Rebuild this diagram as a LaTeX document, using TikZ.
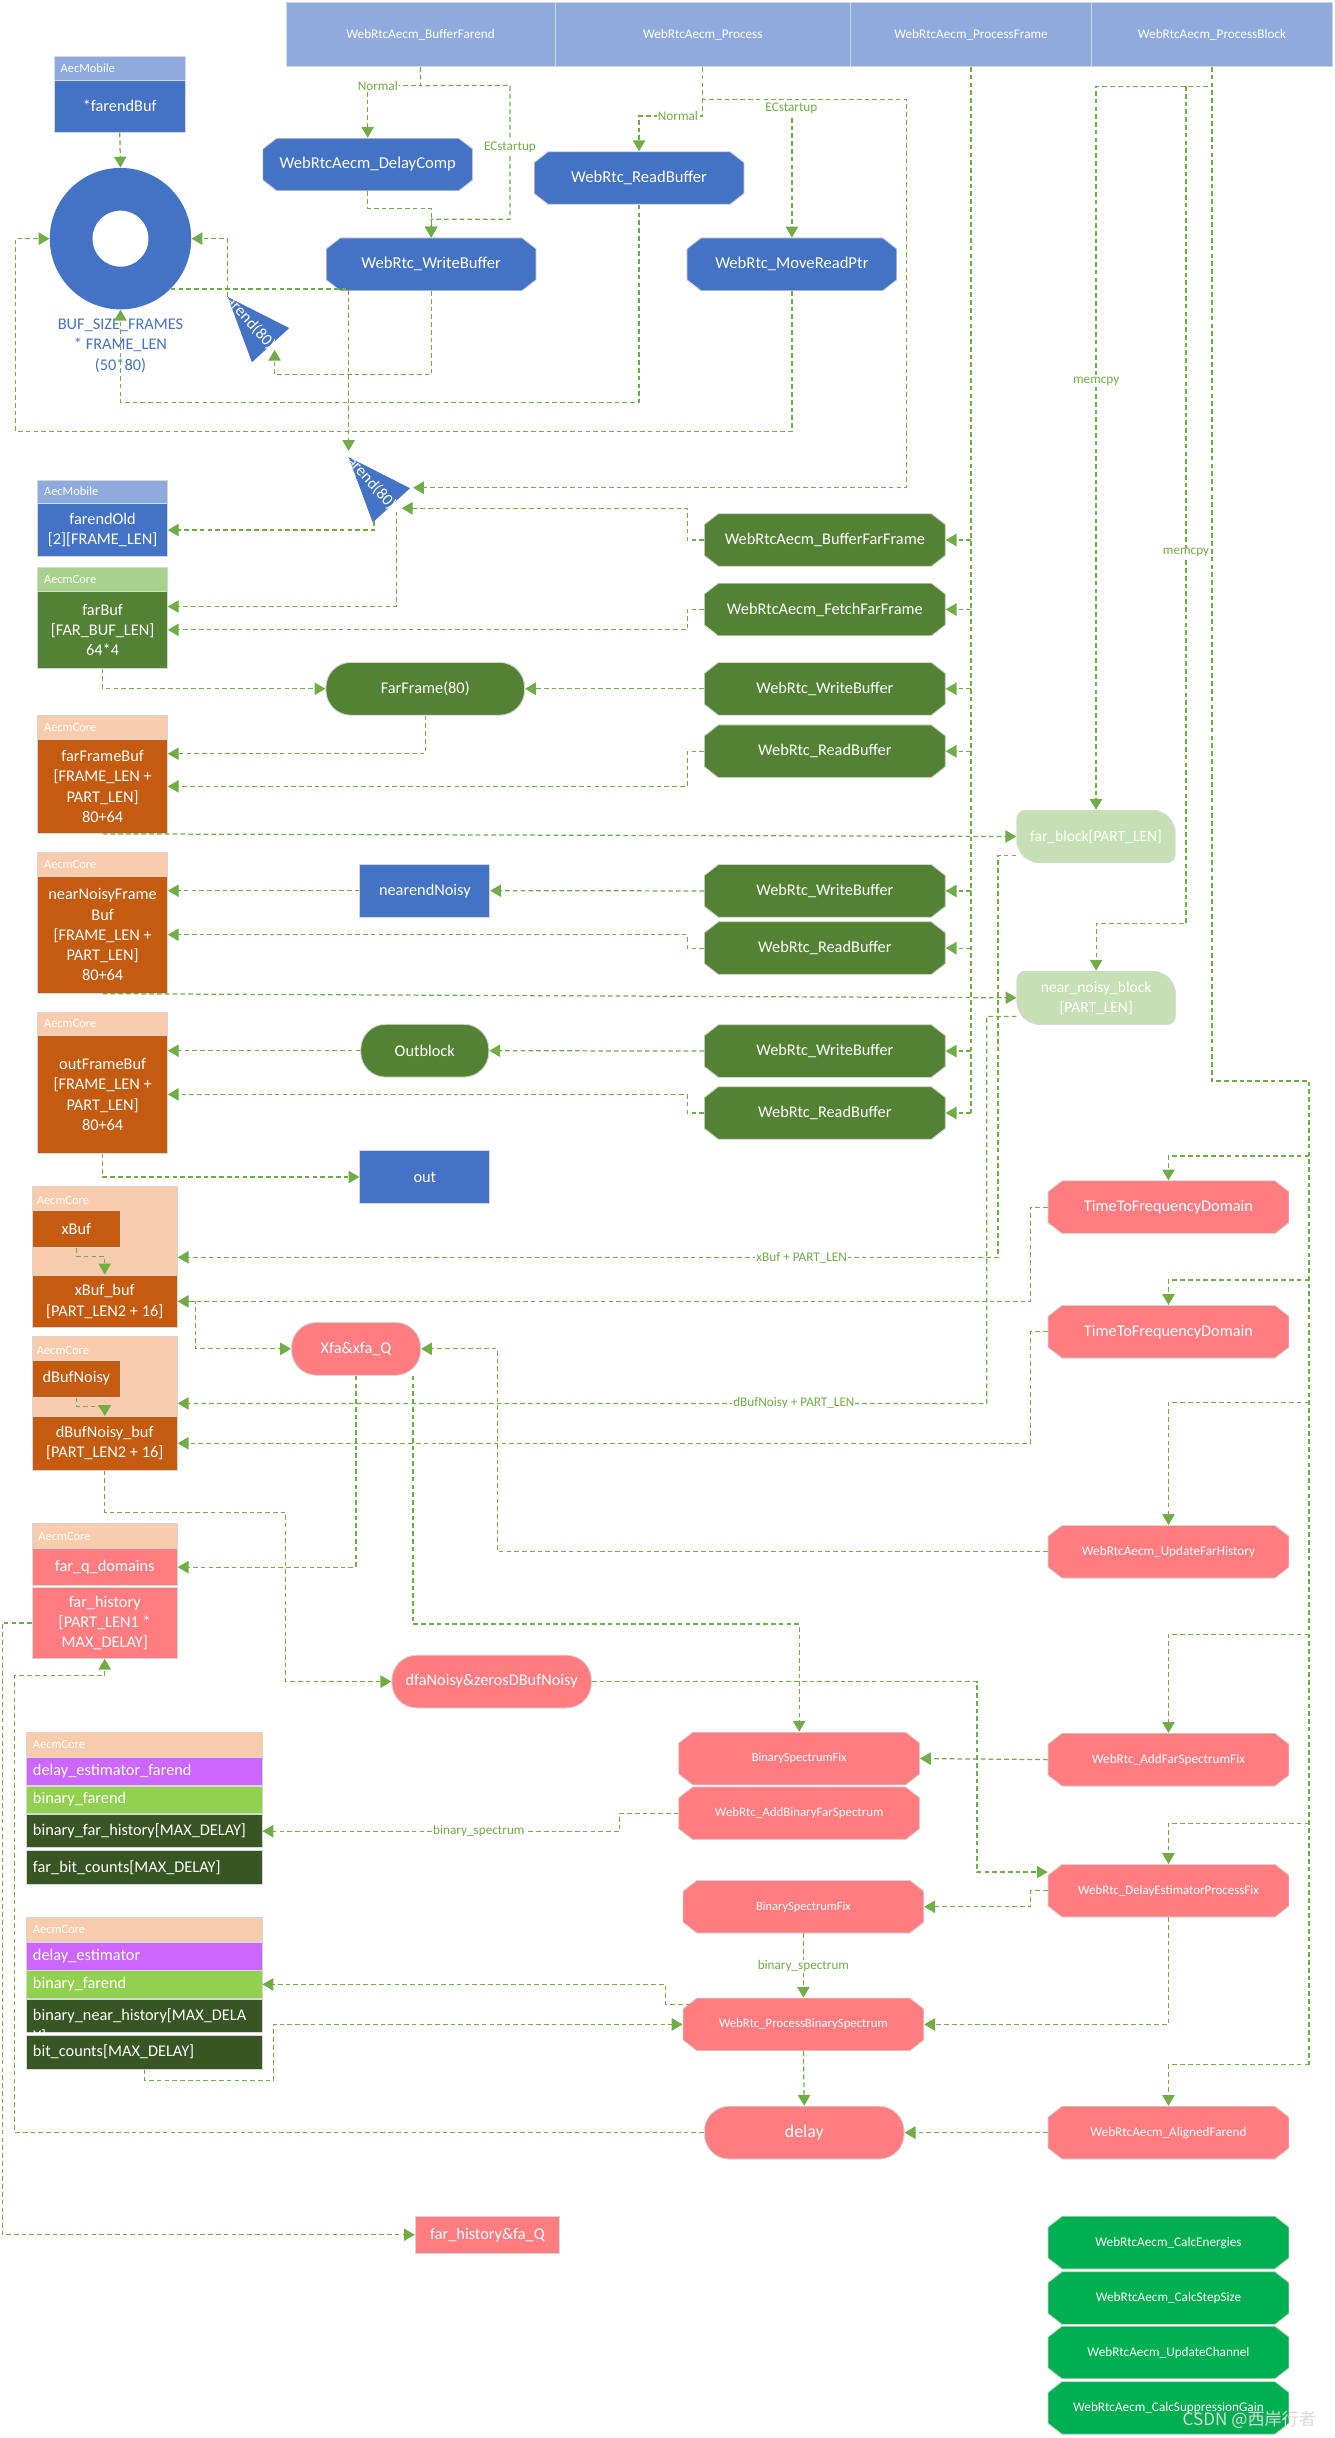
\documentclass[tikz,border=0pt]{standalone}
\usepackage{fontspec}
\setmainfont{Carlito}
\newfontfamily\cjkfont{Noto Sans CJK SC}
\usetikzlibrary{arrows.meta,positioning}

\definecolor{barblue}{HTML}{8FAADC}
\definecolor{dkblue}{HTML}{4472C4}
\definecolor{dkgreen}{HTML}{548235}
\definecolor{hdrgreen}{HTML}{A9D18E}
\definecolor{peach}{HTML}{F8CBAD}
\definecolor{rust}{HTML}{C55A11}
\definecolor{salmon}{HTML}{FF7C80}
\definecolor{palegreen}{HTML}{C5E0B4}
\definecolor{purp}{HTML}{CC66FF}
\definecolor{limeg}{HTML}{92D050}
\definecolor{forest}{HTML}{375623}
\definecolor{brgreen}{HTML}{00B050}
\definecolor{lgreen}{HTML}{70AD47}
\definecolor{edge}{HTML}{D6D6D6}

\newcommand{\fsz}[2]{\fontsize{#1}{#2}\selectfont}

\begin{document}
\begin{tikzpicture}[x=1pt, y=-1pt,
    conn/.style={draw=lgreen, line width=0.8pt, dash pattern=on 3pt off 2pt, -{Triangle[length=7pt,width=8pt]}},
    trunk/.style={draw=lgreen, line width=1.1pt, dash pattern=on 3pt off 2pt},
    lbl/.style={fill=white, inner sep=0.6pt, text=lgreen, font=\fsz{8.5}{10}},
    bar/.style={draw=edge, fill=barblue, text=white, minimum height=41.2pt, inner sep=0pt, font=\fsz{8.5}{10}},
    box/.style={draw=edge, line width=0.6pt, fill=#1, text=white, inner sep=0pt, align=center, font=\fsz{10.5}{13}},
    hdr/.style={draw=edge, line width=0.6pt, fill=#1, text=white, inner sep=0pt, inner xsep=4pt, align=left, font=\fsz{8}{9}},
    row/.style={draw=edge, line width=0.6pt, fill=#1, text=white, inner sep=0pt, inner xsep=4pt, align=left, text width=143.3pt, font=\fsz{10.5}{13}},
    pill/.style={box=#1, rounded corners=16pt},
    oct/.style={rectangle, inner sep=0pt, minimum width=155pt, minimum height=34pt, text=white, align=center, font=\fsz{10.5}{13},
        path picture={\filldraw[fill=#1, draw=edge, line width=0.6pt]
            ([xshift=9pt]path picture bounding box.north west) -- ([xshift=-9pt]path picture bounding box.north east)
            -- ([yshift=-7pt]path picture bounding box.north east) -- ([yshift=7pt]path picture bounding box.south east)
            -- ([xshift=-9pt]path picture bounding box.south east) -- ([xshift=9pt]path picture bounding box.south west)
            -- ([yshift=7pt]path picture bounding box.south west) -- ([yshift=-7pt]path picture bounding box.north west) -- cycle;}},
    snip/.style={rectangle, inner sep=0pt, minimum width=102.2pt, minimum height=34pt, text=white, align=center, font=\fsz{10}{13},
        path picture={\filldraw[fill=#1, draw=edge, line width=0.6pt, rounded corners=6pt]
            (path picture bounding box.north west) -- ([xshift=-9pt]path picture bounding box.north east)
            -- ([yshift=-9pt]path picture bounding box.north east) -- (path picture bounding box.south east)
            -- ([xshift=9pt]path picture bounding box.south west) -- ([yshift=9pt]path picture bounding box.south west) -- cycle;}},
]
\useasboundingbox (0,0) rectangle (858,1568);

% function bar
\node[bar, minimum width=173pt] (barFarend) at (270.5,22.3) {WebRtcAecm\_BufferFarend};
\node[bar, minimum width=190pt] (barProcess) at (452,22.3) {WebRtcAecm\_Process};
\node[bar, minimum width=155pt] (barFrame) at (624.5,22.3) {WebRtcAecm\_ProcessFrame};
\node[bar, minimum width=155pt] (barBlock) at (779.5,22.3) {WebRtcAecm\_ProcessBlock};

% AecMobile ring buffer
\node[hdr=barblue, text width=76pt, minimum height=15.5pt] (farendBufHdr) at (77,43.75) {AecMobile};
\node[box=dkblue, minimum width=84pt, minimum height=33.5pt] (farendBuf) at (77,68.25) {*farendBuf};
\node[circle, fill=dkblue, minimum size=91pt, inner sep=0pt] (ring) at (77.5,153.5) {};
\node[circle, fill=white, minimum size=36pt, inner sep=0pt] (ringHole) at (ring.center) {};
\node[text=dkblue, align=center, font=\fsz{10.5}{13}] (ringLbl) at (77.5,222.4) {BUF\_SIZE\_FRAMES\\{}* FRAME\_LEN\\(50*80)};

\node[oct=dkblue, minimum width=135pt, font=\fsz{10.7}{13}] (delayComp) at (236.5,105.8) {WebRtcAecm\_DelayComp};
\node[oct=dkblue, minimum width=135pt, font=\fsz{10.7}{13}] (writeBufA) at (277.3,170) {WebRtc\_WriteBuffer};
\node[oct=dkblue, minimum width=135pt, font=\fsz{10.7}{13}] (readBufA) at (411,114.5) {WebRtc\_ReadBuffer};
\node[oct=dkblue, minimum width=135pt, font=\fsz{10.7}{13}] (movePtr) at (509.3,170) {WebRtc\_MoveReadPtr};

% farend(80) pieces
\foreach \nm/\dx/\dy in {triA/0/0, triB/77.7/103} {
  \begin{scope}[shift={(\dx,\dy)}]
    \fill[dkblue] (146.5,191) -- (186,211) -- (162,233) -- cycle;
    \clip (146.5,191) -- (186,211) -- (162,233) -- cycle;
    \node[text=white, rotate=-48, inner sep=0pt, font=\fsz{10.5}{12}] (\nm) at (160.3,206.5) {farend(80)};
  \end{scope}
}
\coordinate (t1a) at (146.5,191);
\coordinate (t1b) at (176.6,225);
\coordinate (t2top) at (224.2,290);
\coordinate (t2r) at (265.6,313.7);
\coordinate (t2m) at (258.4,326.9);
\coordinate (t2b) at (240.6,335);
\coordinate (t2v) at (254.9,329);

% left column buffers
\node[hdr=barblue, text width=75.3pt, minimum height=15.1pt] (farendOldHdr) at (66,316.25) {AecMobile};
\node[box=dkblue, minimum width=83.3pt, minimum height=34.2pt] (farendOld) at (66,340.9) {farendOld\\{}[2][FRAME\_LEN]};
\node[hdr=hdrgreen, text width=75.3pt, minimum height=15.5pt] (farBufHdr) at (66,372.75) {AecmCore};
\node[box=dkgreen, minimum width=83.3pt, minimum height=49.2pt] (farBuf) at (66,405.1) {farBuf\\{}[FAR\_BUF\_LEN]\\64*4};
\node[hdr=peach, text width=75.3pt, minimum height=15.5pt] (farFrameBufHdr) at (66,467.75) {AecmCore};
\node[box=rust, minimum width=83.3pt, minimum height=60.5pt] (farFrameBuf) at (66,505.75) {farFrameBuf\\{}[FRAME\_LEN +\\PART\_LEN]\\80+64};
\node[hdr=peach, text width=75.3pt, minimum height=15.5pt] (nearBufHdr) at (66,555.75) {AecmCore};
\node[box=rust, minimum width=83.3pt, minimum height=75.3pt] (nearBuf) at (66,601.15) {nearNoisyFrame\\Buf\\{}[FRAME\_LEN +\\PART\_LEN]\\80+64};
\node[hdr=peach, text width=75.3pt, minimum height=15pt] (outBufHdr) at (66,658.5) {AecmCore};
\node[box=rust, minimum width=83.3pt, minimum height=75.7pt] (outBuf) at (66,703.85) {outFrameBuf\\{}[FRAME\_LEN +\\PART\_LEN]\\80+64};

\node[box=peach, minimum width=93.3pt, minimum height=90.7pt] (xBufGrp) at (67.35,808.65) {};
\node[text=white, anchor=west, inner sep=0pt, font=\fsz{8}{9}] (xBufHdr) at (23.5,772) {AecmCore};
\node[box=rust, minimum width=56.8pt, minimum height=23.8pt] (xBuf) at (49.1,790.6) {xBuf};
\node[box=rust, minimum width=93.3pt, minimum height=34pt] (xBufBuf) at (67.35,837) {xBuf\_buf\\{}[PART\_LEN2 + 16]};
\node[box=peach, minimum width=93.3pt, minimum height=85.8pt] (dBufGrp) at (67.35,902.6) {};
\node[text=white, anchor=west, inner sep=0pt, font=\fsz{8}{9}] (dBufHdr) at (23.5,868.5) {AecmCore};
\node[box=rust, minimum width=56.8pt, minimum height=23.9pt] (dBuf) at (49.1,886.65) {dBufNoisy};
\node[box=rust, minimum width=93.3pt, minimum height=34.5pt] (dBufBuf) at (67.35,928.25) {dBufNoisy\_buf\\{}[PART\_LEN2 + 16]};

\node[hdr=peach, text width=85.3pt, minimum height=15.8pt] (farQHdr) at (67.35,987.9) {AecmCore};
\node[box=salmon, minimum width=93.3pt, minimum height=24.2pt] (farQ) at (67.35,1007.9) {far\_q\_domains};
\node[box=salmon, minimum width=93.3pt, minimum height=45.5pt] (farHist) at (67.35,1043.75) {far\_history\\{}[PART\_LEN1 *\\MAX\_DELAY]};

% delay estimator structs
\node[hdr=peach, text width=143.3pt, minimum height=15.6pt] (estFarHdr) at (92.85,1122.2) {AecmCore};
\node[row=purp, minimum height=18pt] (estFar) at (92.85,1139) {delay\_estimator\_farend};
\node[row=limeg, minimum height=17.3pt] (binFarA) at (92.85,1157.35) {binary\_farend};
\node[row=forest, minimum height=21.4pt] (binFarHist) at (92.85,1177.7) {binary\_far\_history[MAX\_DELAY]};
\node[row=forest, minimum height=21.8pt] (farBitCnt) at (92.85,1200.9) {far\_bit\_counts[MAX\_DELAY]};
\node[hdr=peach, text width=143.3pt, minimum height=15.9pt] (estHdr) at (92.85,1241) {AecmCore};
\node[row=purp, minimum height=18pt] (est) at (92.85,1258) {delay\_estimator};
\node[row=limeg, minimum height=17.5pt] (binFarB) at (92.85,1276.25) {binary\_farend};
\node[row=forest, minimum height=21.7pt] (binNearHist) at (92.85,1296.55) {binary\_near\_history[MAX\_DELA};
\node[text=white, anchor=west, inner sep=0pt, font=\fsz{10.5}{13}] (binNearWrap) at (21.2,1310) {Y]};
\node[row=forest, minimum height=21.7pt] (bitCnt) at (92.85,1319.85) {bit\_counts[MAX\_DELAY]};

% middle data
\node[pill=dkgreen, minimum width=127.8pt, minimum height=34pt] (farFrame) at (273.5,443) {FarFrame(80)};
\node[box=dkblue, minimum width=83.5pt, minimum height=34.3pt] (nearendNoisy) at (273.25,572.85) {nearendNoisy};
\node[pill=dkgreen, minimum width=82.4pt, minimum height=34pt] (outblock) at (273.2,675.75) {Outblock};
\node[box=dkblue, minimum width=83.5pt, minimum height=34pt] (outNode) at (273.25,757) {out};
\node[pill=salmon, minimum width=83pt, minimum height=34pt] (xfa) at (229,867.5) {Xfa\&xfa\_Q};
\node[pill=salmon, minimum width=128.4pt, minimum height=34pt] (dfa) at (316.2,1081.5) {dfaNoisy\&zerosDBufNoisy};
\node[box=salmon, minimum width=93pt, minimum height=24pt] (farHistQ) at (313.5,1437.25) {far\_history\&fa\_Q};

% ProcessFrame calls
\foreach \nm/\y/\txt in {bufFar/347.3/WebRtcAecm\_BufferFarFrame, fetchFar/392/WebRtcAecm\_FetchFarFrame,
    writeB/443/WebRtc\_WriteBuffer, readB/483.2/WebRtc\_ReadBuffer,
    writeC/573/WebRtc\_WriteBuffer, readC/609.8/WebRtc\_ReadBuffer,
    writeD/676/WebRtc\_WriteBuffer, readD/715.8/WebRtc\_ReadBuffer}
  \node[oct=dkgreen] (\nm) at (530.5,\y) {\txt};

\node[snip=palegreen] (farBlock) at (704.9,538) {far\_block[PART\_LEN]};
\node[snip=palegreen, minimum height=34.5pt] (nearBlock) at (705,641.75) {near\_noisy\_block\\{}[PART\_LEN]};

% ProcessBlock calls
\foreach \nm/\y/\fs/\txt in {ttfA/776.4/10.5/TimeToFrequencyDomain, ttfB/856.5/10.5/TimeToFrequencyDomain,
    updHist/998/8.5/WebRtcAecm\_UpdateFarHistory, addFar/1131.7/8.5/WebRtc\_AddFarSpectrumFix,
    delayEst/1216/8.3/WebRtc\_DelayEstimatorProcessFix, aligned/1371.6/8.5/WebRtcAecm\_AlignedFarend}
  \node[oct=salmon, font=\fsz{\fs}{12}] (\nm) at (751.5,\y) {\txt};
\node[oct=salmon, font=\fsz{8}{10}] (binSpecA) at (514,1131) {BinarySpectrumFix};
\node[oct=salmon, font=\fsz{8.3}{10}] (addBinFar) at (514,1166.2) {WebRtc\_AddBinaryFarSpectrum};
\node[oct=salmon, font=\fsz{8}{10}] (binSpecB) at (516.7,1226.3) {BinarySpectrumFix};
\node[oct=salmon, font=\fsz{8.2}{10}] (procBin) at (516.7,1302) {WebRtc\_ProcessBinarySpectrum};
\node[pill=salmon, minimum width=128.5pt, minimum height=34pt, font=\fsz{11.5}{13}] (delayNode) at (517.25,1371.6) {delay};
\foreach \nm/\y/\txt in {calcEn/1442.3/WebRtcAecm\_CalcEnergies, calcStep/1478/WebRtcAecm\_CalcStepSize,
    updChan/1513/WebRtcAecm\_UpdateChannel, calcGain/1548.6/WebRtcAecm\_CalcSuppressionGain}
  \node[oct=brgreen, font=\fsz{8.5}{10}] (\nm) at (751.5,\y) {\txt};

% BufferFarend / Process flow
\draw[conn] (farendBuf.south) -- (ring.north);
\draw[conn] (barFarend.south) -- ++(0,12) -| (delayComp.north);
\draw[conn] (barFarend.south) -- ++(0,12) -- (328,54.9) -- (328,141) -| (writeBufA.north);
\draw[conn] (delayComp.south) -- ++(0,11) -| (writeBufA.north);
\draw[conn] (writeBufA.south) -- (277.3,241) -| (t1b);
\draw[conn] (t1a) |- (ring.east);
\draw[conn] (ring.-45) -| (t2top);
\draw[conn] (readBufA.south) -- (411,259) -| (ring.south);
\draw[conn] (movePtr.south) -- (509.3,277.5) -- (10,277.5) |- (ring.west);
\draw[conn] (barProcess.south) -- (452,74.6) -| (readBufA.north);
\draw[conn] (barProcess.south) -- (452,64) -| (movePtr.north);
\draw[conn] (barProcess.south) -- (452,64) -- (583,64) |- (t2r);

% ProcessFrame trunk
\draw[trunk] (barFrame.south) -- (barFrame.south |- readD.east);
\foreach \nm in {bufFar,fetchFar,writeB,readB,writeC,readC,writeD,readD}
  \draw[conn] (barFrame.south |- \nm.east) -- (\nm.east);
\draw[conn] (bufFar.west) -- (442,347.3) |- (t2m);
\draw[conn] (t2b) |- (farendOld.east);
\draw[conn] (t2v) |- ([yshift=15pt]farBuf.east);
\draw[conn] (fetchFar.west) -- (442,392) |- (farBuf.east);
\draw[conn] (farBuf.south) |- (farFrame.west);
\draw[conn] (writeB.west) -- (farFrame.east);
\draw[conn] (farFrame.south) |- ([yshift=21pt]farFrameBuf.east);
\draw[conn] (readB.west) -- (442,483.2) |- (farFrameBuf.east);
\draw[conn] (farFrameBuf.south) -- (farBlock.west);
\draw[conn] (nearendNoisy.west) -- (nearendNoisy.west -| nearBuf.east);
\draw[conn] (writeC.west) -- (nearendNoisy.east);
\draw[conn] (readC.west) -- (442,609.8) |- (nearBuf.east);
\draw[conn] (nearBuf.south) -- (nearBlock.west);
\draw[conn] (writeD.west) -- (outblock.east);
\draw[conn] (outblock.west) -- (outblock.west -| outBuf.east);
\draw[conn] (readD.west) -- (442,715.8) |- (outBuf.east);
\draw[conn] (outBuf.south) |- (outNode.west);

% ProcessBlock trunk
\coordinate (memSplit) at (762.8,55.4);
\coordinate (blockEnd) at (842,1328);
\draw[trunk] (barBlock.south) -- (779.5,695.3) -- (842,695.3) -- (blockEnd);
\draw[conn] (barBlock.south) -- ++(0,12.5) -| (farBlock.north);
\draw[conn] (memSplit) -- (762.8,593.8) -| (nearBlock.north);
\foreach \nm/\y in {ttfA/743.5, ttfB/823.3, updHist/902, addFar/1051, delayEst/1172.6, aligned/1328}
  \draw[conn] (842,\y) -| (\nm.north);

\draw[conn] ([yshift=-12pt]farBlock.west) -- (641.8,550) |- (xBufGrp.east);
\draw[conn] ([yshift=-12pt]nearBlock.west) -- (634.6,653.8) |- (dBufGrp.east);
\draw[conn] (xBuf.south) -- (49.1,808) -| (xBufBuf.north);
\draw[conn] (dBuf.south) -- (49.1,904.7) -| (dBufBuf.north);
\draw[conn] (ttfA.west) -- (662.8,776.4) |- (xBufBuf.east);
\draw[conn] (ttfB.west) -- (662.8,856.5) |- (dBufBuf.east);
\draw[conn] (xBufBuf.east) -- (125.5,837) |- (xfa.west);
\draw[conn] (updHist.west) -- (320,998) |- (xfa.east);
\draw[conn] (xfa.south) |- (farQ.east);
\draw[conn] ([xshift=36.6pt]xfa.south) -- (265.6,1044.5) -| (binSpecA.north);
\draw[conn] (dBufBuf.south) -- (67.35,972.6) -- (183.8,972.6) |- (dfa.west);
\draw[conn] (dfa.east) -- (628.3,1081.5) |- ([yshift=12pt]delayEst.west);
\draw[conn] (addFar.west) -- (binSpecA.east);
\draw[conn] (addBinFar.west) -- (398.6,1166.2) |- (binFarHist.east);
\draw[conn] (delayEst.west) -- (662.8,1216) |- (binSpecB.east);
\draw[conn] (binSpecB.south) -- (procBin.north);
\draw[conn] (delayEst.south) |- (procBin.east);
\draw[conn] ([xshift=5pt,yshift=13pt]procBin.west) -- (428,1289) |- (binFarB.east);
\draw[conn] (bitCnt.south) -- (92.85,1338) -- (176,1338) |- (procBin.west);
\draw[conn] (procBin.south) -- (delayNode.north);
\draw[conn] (aligned.west) -- (delayNode.east);
\draw[conn] (delayNode.west) -- (9.5,1371.6) -- (9.5,1077.8) -| (farHist.south);
\draw[conn] (farHist.west) -- (1.4,1043.75) |- (farHistQ.west);

% connector labels
\node[lbl] (lblNormalA) at (243,55) {Normal};
\node[lbl] (lblStartA) at (328,94.6) {ECstartup};
\node[lbl] (lblNormalB) at (436,74.6) {Normal};
\node[lbl] (lblStartB) at (509,69.7) {ECstartup};
\node[lbl] (lblMemA) at (705,245.5) {memcpy};
\node[lbl] (lblMemB) at (762.8,355.5) {memcpy};
\node[lbl] (lblXBuf) at (515.6,809) {xBuf + PART\_LEN};
\node[lbl] (lblDBuf) at (510.6,902.6) {dBufNoisy + PART\_LEN};
\node[lbl] (lblSpecA) at (308,1177.7) {binary\_spectrum};
\node[lbl] (lblSpecB) at (516.7,1264.5) {binary\_spectrum};

\node[text=white!70!gray, inner sep=0pt, font=\cjkfont\fsz{11}{13}] (wmark) at (803.5,1556) {CSDN @西岸行者};
\end{tikzpicture}
\end{document}
